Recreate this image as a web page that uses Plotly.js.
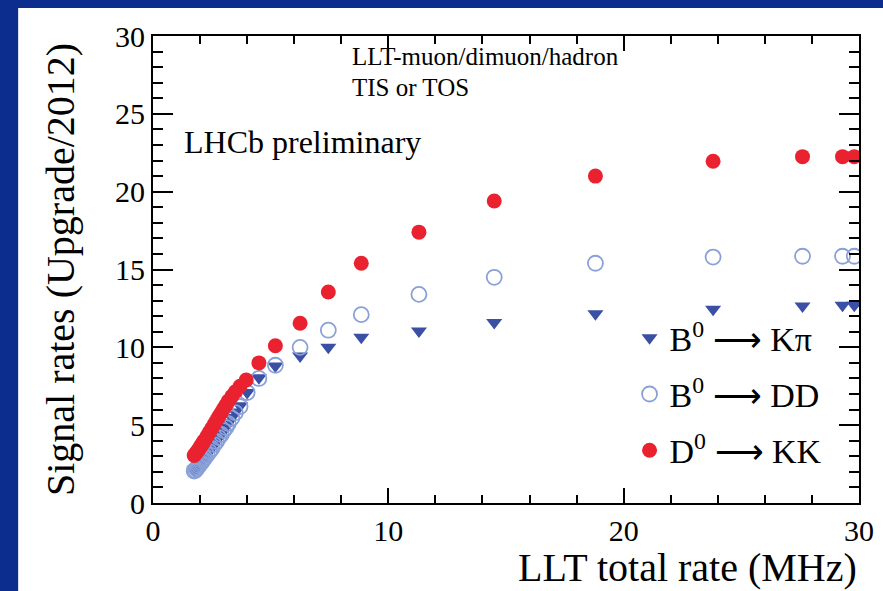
<!DOCTYPE html>
<html>
<head>
<meta charset="utf-8">
<script src="https://cdn.plot.ly/plotly-3.0.1.min.js"></script>
<style>html,body{margin:0;padding:0;background:#0c2c8e;}#chart{width:883px;height:591px;}</style>
</head>
<body>
<div id="chart"></div>
<script>
// LLT total rate (MHz) for each point
const rateKpi = [1.75,1.8,1.85,1.9,1.95,2.0,2.05,2.1,2.15,2.2,2.3,2.4,2.5,2.6,2.7,2.8,2.9,3.0,3.1,3.2,3.35,3.5,3.7,4.0,4.5,5.2,6.25,7.45,8.85,11.3,14.5,18.8,23.8,27.6,29.3,29.8];
const sigKpi  = [2.1,2.2,2.25,2.35,2.45,2.55,2.65,2.75,2.85,2.95,3.15,3.35,3.55,3.8,4.0,4.25,4.45,4.7,4.9,5.15,5.5,5.85,6.25,7.1,8.05,8.8,9.45,10.0,10.65,11.05,11.6,12.15,12.45,12.65,12.7,12.7];

const rateDD = [1.75,1.8,1.85,1.9,1.95,2.0,2.05,2.1,2.15,2.2,2.3,2.4,2.5,2.6,2.7,2.8,2.9,3.0,3.1,3.2,3.35,3.5,3.7,4.0,4.5,5.2,6.25,7.45,8.85,11.3,14.5,18.8,23.8,27.6,29.3,29.8];
const sigDD  = [2.05,2.1,2.2,2.3,2.4,2.5,2.6,2.7,2.8,2.9,3.1,3.3,3.5,3.75,3.95,4.2,4.4,4.65,4.85,5.1,5.45,5.8,6.2,7.1,8.0,8.85,10.0,11.1,12.1,13.4,14.5,15.4,15.8,15.85,15.85,15.85];

const rateKK = [1.75,1.8,1.85,1.9,1.95,2.0,2.05,2.1,2.15,2.2,2.3,2.4,2.5,2.6,2.7,2.8,2.9,3.0,3.1,3.2,3.35,3.5,3.7,3.96,4.5,5.2,6.25,7.45,8.85,11.3,14.5,18.8,23.8,27.6,29.3,29.8];
const sigKK  = [3.05,3.15,3.25,3.35,3.45,3.6,3.7,3.8,3.95,4.05,4.3,4.55,4.8,5.05,5.3,5.55,5.8,6.05,6.3,6.55,6.85,7.15,7.5,7.9,9.0,10.1,11.55,13.55,15.4,17.4,19.4,21.0,21.95,22.25,22.25,22.25];

const names = ['B<sup>0</sup> \u27f6 K\u03c0', 'B<sup>0</sup> \u27f6 DD', 'D<sup>0</sup> \u27f6 KK'];

const serif = 'Liberation Serif, Times New Roman, serif';

const traces = [
  {x: rateKpi, y: sigKpi, name: names[0], type: 'scatter', mode: 'markers', legendgroup: 'a',
   marker: {symbol: 'triangle-down', size: 14, color: '#3a50a4', line: {width: 0}}},
  {x: rateDD, y: sigDD, name: names[1], type: 'scatter', mode: 'markers', legendgroup: 'b',
   marker: {symbol: 'circle-open', size: 15, color: '#8aa0d8', line: {width: 1.8, color: '#8aa0d8'}}},
  {x: rateKK, y: sigKK, name: names[2], type: 'scatter', mode: 'markers', legendgroup: 'c',
   marker: {symbol: 'circle', size: 15, color: '#ea2230', line: {width: 0}}}
];

function axisBase() {
  return {
    range: [0, 30], showgrid: false, zeroline: false, showline: true, linewidth: 2, linecolor: '#000',
    mirror: 'ticks', ticks: 'inside', tickwidth: 2, tickcolor: '#000',
    tickfont: {family: serif, size: 30, color: '#000'}
  };
}

const layout = {
  width: 883, height: 591,
  paper_bgcolor: '#0c2c8e', plot_bgcolor: '#ffffff',
  margin: {l: 153, r: 24, t: 36, b: 88},
  showlegend: true,
  legend: {x: 0.675, y: 0.415, xanchor: 'left', yanchor: 'top', bgcolor: 'rgba(0,0,0,0)',
           font: {family: serif, size: 34, color: '#000'}, traceorder: 'grouped', tracegroupgap: 9},
  xaxis: Object.assign(axisBase(), {dtick: 10, ticklen: 15,
    minor: {dtick: 2, ticklen: 8, tickwidth: 2, tickcolor: '#000', ticks: 'inside', showgrid: false}}),
  yaxis: Object.assign(axisBase(), {dtick: 5, ticklen: 20,
    minor: {dtick: 1, ticklen: 10, tickwidth: 2, tickcolor: '#000', ticks: 'inside', showgrid: false},
    title: {text: '\u00a0\u00a0Signal rates (Upgrade/2012)', font: {family: serif, size: 40, color: '#000'}, standoff: 28}}),
  shapes: [
    {type: 'rect', xref: 'paper', yref: 'paper', x0: -0.191, x1: 1.04, y0: -0.2, y1: 1.06,
     fillcolor: '#ffffff', line: {width: 0}, layer: 'below'}
  ],
  annotations: [
    {text: 'LLT total rate (MHz)', xref: 'paper', yref: 'paper', x: 1.0, y: (503-567)/467, xanchor: 'right', yanchor: 'middle',
     showarrow: false, font: {family: serif, size: 40, color: '#000'}},
    {text: 'LLT-muon/dimuon/hadron', xref: 'paper', yref: 'paper', x: (350-153)/706, y: (503-56)/467, xanchor: 'left', yanchor: 'middle',
     showarrow: false, font: {family: serif, size: 25, color: '#000'}},
    {text: 'TIS or TOS', xref: 'paper', yref: 'paper', x: (350-153)/706, y: (503-88)/467, xanchor: 'left', yanchor: 'middle',
     showarrow: false, font: {family: serif, size: 25, color: '#000'}},
    {text: 'LHCb preliminary', xref: 'paper', yref: 'paper', x: (182-153)/706, y: (503-142)/467, xanchor: 'left', yanchor: 'middle',
     showarrow: false, font: {family: serif, size: 32, color: '#000'}}
  ]
};

Plotly.newPlot('chart', traces, layout, {displayModeBar: false, staticPlot: true});
</script>
</body>
</html>
